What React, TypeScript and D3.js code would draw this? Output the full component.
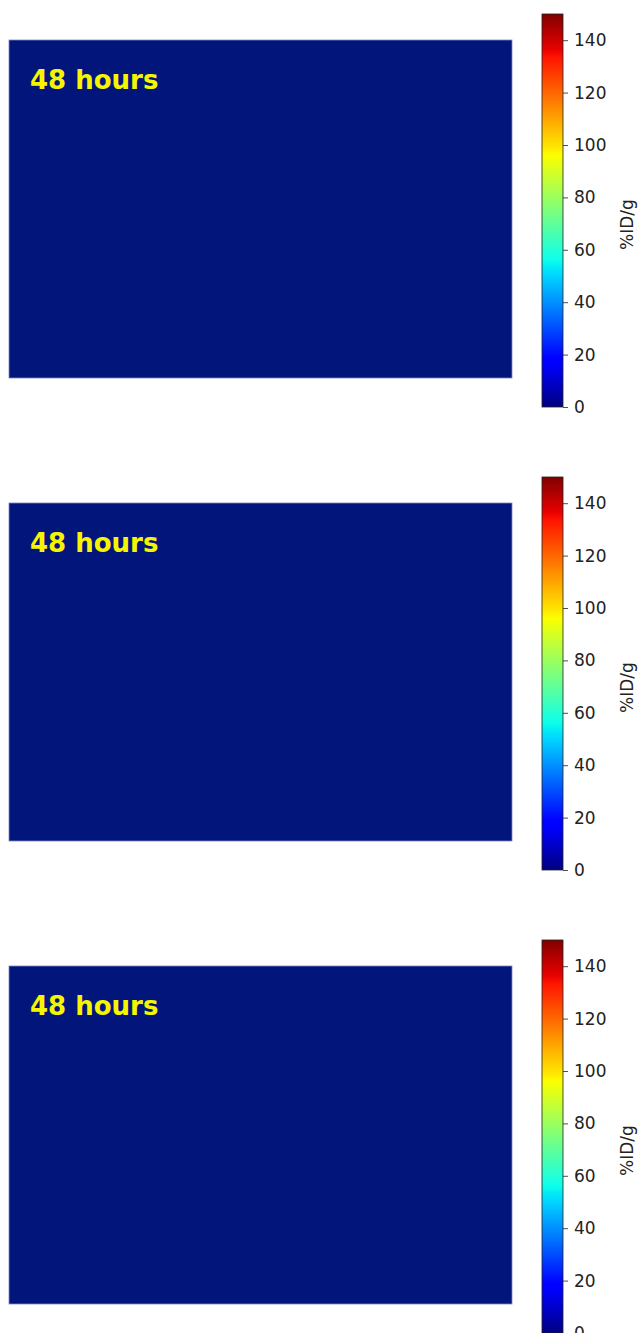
import React, { useEffect, useRef } from "react";
import * as d3 from "d3";

// ---- data ----
const panelLabels = ["48 hours", "48 hours", "48 hours"];
// uptake grid per panel (%ID/g), uniform near-zero background
const gridRows = [0, 1, 2, 3];
const gridCols = [0, 1, 2, 3, 4, 5];
const panelValues = [
  [
    [0, 0, 0, 0, 0, 0],
    [0, 0, 0, 0, 0, 0],
    [0, 0, 0, 0, 0, 0],
    [0, 0, 0, 0, 0, 0],
  ],
  [
    [0, 0, 0, 0, 0, 0],
    [0, 0, 0, 0, 0, 0],
    [0, 0, 0, 0, 0, 0],
    [0, 0, 0, 0, 0, 0],
  ],
  [
    [0, 0, 0, 0, 0, 0],
    [0, 0, 0, 0, 0, 0],
    [0, 0, 0, 0, 0, 0],
    [0, 0, 0, 0, 0, 0],
  ],
];
const colorbarTicks = [0, 20, 40, 60, 80, 100, 120, 140];
const colorbarDomain = [0, 150];
const colorbarLabel = "%ID/g";

// matplotlib "jet" stops (fraction -> colour)
const jetStops: [number, string][] = [
  [0, "#000080"],
  [0.11, "#0000ff"],
  [0.125, "#0000ff"],
  [0.34, "#00dbff"],
  [0.35, "#00e5f8"],
  [0.375, "#0dffeb"],
  [0.64, "#fbff00"],
  [0.66, "#ffe800"],
  [0.89, "#ff1400"],
  [0.91, "#e80000"],
  [1, "#800000"],
];

const W = 642;
const H = 1333;

export default function App() {
  const ref = useRef<SVGSVGElement | null>(null);

  useEffect(() => {
    const svg = d3.select(ref.current);
    svg.selectAll("*").remove();

    const jet = d3
      .scaleLinear<string>()
      .domain(jetStops.map((s) => colorbarDomain[0] + s[0] * (colorbarDomain[1] - colorbarDomain[0])))
      .range(jetStops.map((s) => s[1]))
      .clamp(true);
    // rendered image background tone (displayed value 0)
    const cellColor = (v: number) => (v <= 0 ? "#01157b" : jet(v));

    const defs = svg.append("defs");
    const grad = defs
      .append("linearGradient")
      .attr("id", "jetGrad")
      .attr("x1", 0)
      .attr("y1", 1)
      .attr("x2", 0)
      .attr("y2", 0);
    grad
      .selectAll("stop")
      .data(jetStops)
      .join("stop")
      .attr("offset", (d) => d[0])
      .attr("stop-color", (d) => d[1]);

    const period = 463;
    panelLabels.forEach((label, i) => {
      const g = svg.append("g");
      const pTop = 40 + i * period;
      const pH = 338;
      const pLeft = 9;
      const pW = 503;

      const x = d3.scaleBand<number>().domain(gridCols).range([pLeft, pLeft + pW]).padding(0);
      const y = d3.scaleBand<number>().domain(gridRows).range([pTop, pTop + pH]).padding(0);

      const cells = panelValues[i].flatMap((row, r) => row.map((v, c) => ({ r, c, v })));
      g.selectAll("rect.cell")
        .data(cells)
        .join("rect")
        .attr("class", "cell")
        .attr("x", (d) => Math.floor(x(d.c)!))
        .attr("y", (d) => Math.floor(y(d.r)!))
        .attr("width", (d) => Math.min(Math.ceil(x.bandwidth()) + 1, pLeft + pW - Math.floor(x(d.c)!)))
        .attr("height", (d) => Math.min(Math.ceil(y.bandwidth()) + 1, pTop + pH - Math.floor(y(d.r)!)))
        .attr("shape-rendering", "crispEdges")
        .attr("fill", (d) => cellColor(d.v));
      g.append("rect")
        .attr("x", pLeft)
        .attr("y", pTop)
        .attr("width", pW)
        .attr("height", pH)
        .attr("fill", "none")
        .attr("stroke", "#7d88c0")
        .attr("stroke-width", 0.8);

      g.append("text")
        .attr("x", 30)
        .attr("y", pTop + 49)
        .attr("font-family", "DejaVu Sans")
        .attr("font-weight", "bold")
        .attr("font-size", 26)
        .attr("fill", "#f5f500")
        .text(label);

      // colorbar
      const cTop = 14 + i * period;
      const cH = 393;
      const cLeft = 542;
      const cW = 21;
      const cy = d3.scaleLinear().domain(colorbarDomain).range([cTop + cH, cTop]);
      g.append("rect")
        .attr("x", cLeft)
        .attr("y", cTop)
        .attr("width", cW)
        .attr("height", cH)
        .attr("fill", "url(#jetGrad)")
        .attr("stroke", "#222")
        .attr("stroke-width", 0.8);
      const axis = d3
        .axisRight(cy)
        .tickValues(colorbarTicks)
        .tickSize(5)
        .tickPadding(6)
        .tickFormat((d) => String(d));
      const ax = g
        .append("g")
        .attr("transform", `translate(${cLeft + cW},0)`)
        .call(axis);
      ax.select(".domain").remove();
      ax.selectAll("line").attr("stroke", "#222").attr("stroke-width", 0.8);
      ax.selectAll("text")
        .attr("font-family", "DejaVu Sans")
        .attr("font-size", 17)
        .attr("fill", "#222");
      g.append("text")
        .attr("transform", `translate(${633},${cTop + cH / 2 + 14}) rotate(-90)`)
        .attr("text-anchor", "middle")
        .attr("font-family", "DejaVu Sans")
        .attr("font-size", 17)
        .attr("fill", "#222")
        .text(colorbarLabel);
    });
  }, []);

  return (
    <svg
      ref={ref}
      width={W}
      height={H}
      style={{ position: "absolute", left: 0, top: 0, background: "#fff" }}
    />
  );
}
